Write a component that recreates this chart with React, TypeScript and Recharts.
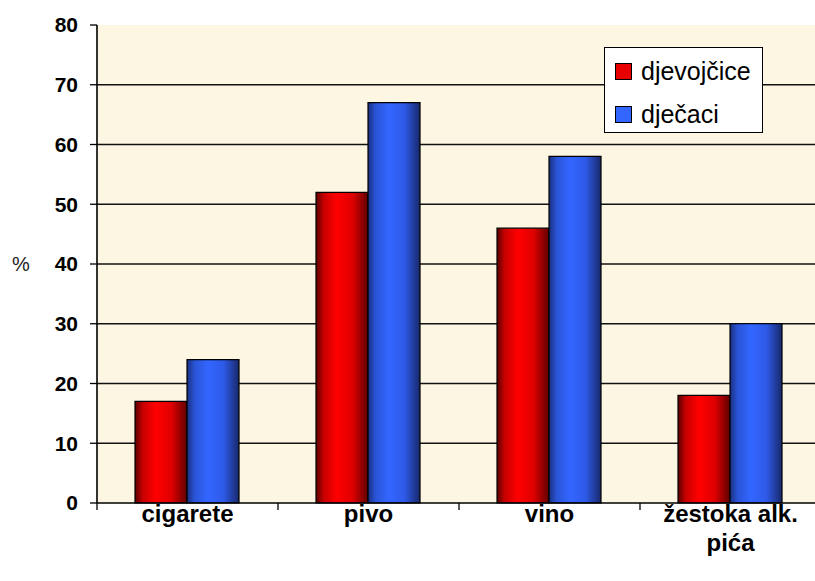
import React from 'react';
import { BarChart, Bar, XAxis, YAxis, CartesianGrid, Legend } from 'recharts';

const categories = ['cigarete', 'pivo', 'vino', 'žestoka alk.\npića'];
const girls = [17, 52, 46, 18];
const boys = [24, 67, 58, 30];
const yTicks = [0, 10, 20, 30, 40, 50, 60, 70, 80];
const gridValues = [10, 20, 30, 40, 50, 60, 70];
const seriesNames = ['djevojčice', 'dječaci'];

const data = categories.map((c, i) => ({ name: c, girls: girls[i], boys: boys[i] }));

const FONT = '"Liberation Sans", Arial, sans-serif';

const XTick = (props: any) => {
  const { x, y, payload, index, visibleTicksCount } = props;
  const lines = String(payload.value).split('\n');
  const half = payload.offset != null ? payload.offset : 90.5;
  const isLast = index === (visibleTicksCount ?? categories.length) - 1;
  return (
    <g>
      <line x1={x - half} y1={y} x2={x - half} y2={y + 7} stroke="#000" strokeWidth={1.3} />
      {isLast && <line x1={x + half} y1={y} x2={x + half} y2={y + 7} stroke="#000" strokeWidth={1.3} />}
      {lines.map((l, i) => (
        <text key={i} x={x} y={y + 19 + i * 29} textAnchor="middle" fontFamily={FONT} fontWeight="bold" fontSize={24} fill="#000">
          {l}
        </text>
      ))}
    </g>
  );
};

const LegendContent = () => {
  const colors = ['#e80000', '#3366ff'];
  return (
    <div style={{ width: 159, height: 86, boxSizing: 'border-box', border: '1.5px solid #000', background: '#fff', position: 'relative', fontFamily: FONT, fontSize: 25, color: '#000' }}>
      {seriesNames.map((n, i) => (
        <div key={n} style={{ position: 'absolute', left: 10, top: 9 + i * 43, height: 28, display: 'flex', alignItems: 'center' }}>
          <span style={{ display: 'inline-block', width: 15, height: 15, background: colors[i], border: '1px solid #000', marginRight: 9 }} />
          <span style={{ lineHeight: '28px' }}>{n}</span>
        </div>
      ))}
    </div>
  );
};

export default function App() {
  return (
    <div style={{ position: 'absolute', left: 0, top: 0, width: 815, height: 581, overflow: 'hidden', background: '#fff' }}>
      <BarChart width={821} height={581} data={data} margin={{ top: 25, right: 0, bottom: 0, left: 0 }} barCategoryGap="21%" barGap={0}>
        <defs>
          <linearGradient id="gRed" x1="0" y1="0" x2="1" y2="0">
            <stop offset="0%" stopColor="#5a0000" />
            <stop offset="15%" stopColor="#c80000" />
            <stop offset="40%" stopColor="#ff0000" />
            <stop offset="70%" stopColor="#e00000" />
            <stop offset="100%" stopColor="#600000" />
          </linearGradient>
          <linearGradient id="gBlue" x1="0" y1="0" x2="1" y2="0">
            <stop offset="0%" stopColor="#1a2f80" />
            <stop offset="15%" stopColor="#2a55d8" />
            <stop offset="40%" stopColor="#3366ff" />
            <stop offset="70%" stopColor="#2e5ae8" />
            <stop offset="100%" stopColor="#18286a" />
          </linearGradient>
        </defs>
        <CartesianGrid vertical={false} horizontalValues={gridValues} stroke="#111" strokeWidth={1.6} fill="#fdf6e2" fillOpacity={1} />
        <XAxis dataKey="name" height={78} interval={0} tickLine={false} tickSize={0} tickMargin={0} axisLine={{ stroke: '#000', strokeWidth: 1.6 }} tick={<XTick />} />
        <YAxis
          width={97}
          domain={[0, 80]}
          ticks={yTicks}
          interval={0}
          tickSize={7}
          tickMargin={12}
          axisLine={{ stroke: '#000', strokeWidth: 1.6 }}
          tickLine={{ stroke: '#000', strokeWidth: 1.3 }}
          tick={{ fontFamily: FONT, fontWeight: 'bold', fontSize: 21, fill: '#000' }}
          label={{ value: '%', position: 'insideLeft', offset: 12, style: { fontFamily: FONT, fontSize: 20, fill: '#222' } }}
        />
        <Legend layout="vertical" align="center" verticalAlign="middle" content={<LegendContent />} wrapperStyle={{ left: 604, top: 47, width: 159, height: 86 }} />
        <Bar dataKey="girls" name={seriesNames[0]} fill="url(#gRed)" stroke="#000" strokeWidth={1.2} isAnimationActive={false} />
        <Bar dataKey="boys" name={seriesNames[1]} fill="url(#gBlue)" stroke="#000" strokeWidth={1.2} isAnimationActive={false} />
      </BarChart>
    </div>
  );
}
